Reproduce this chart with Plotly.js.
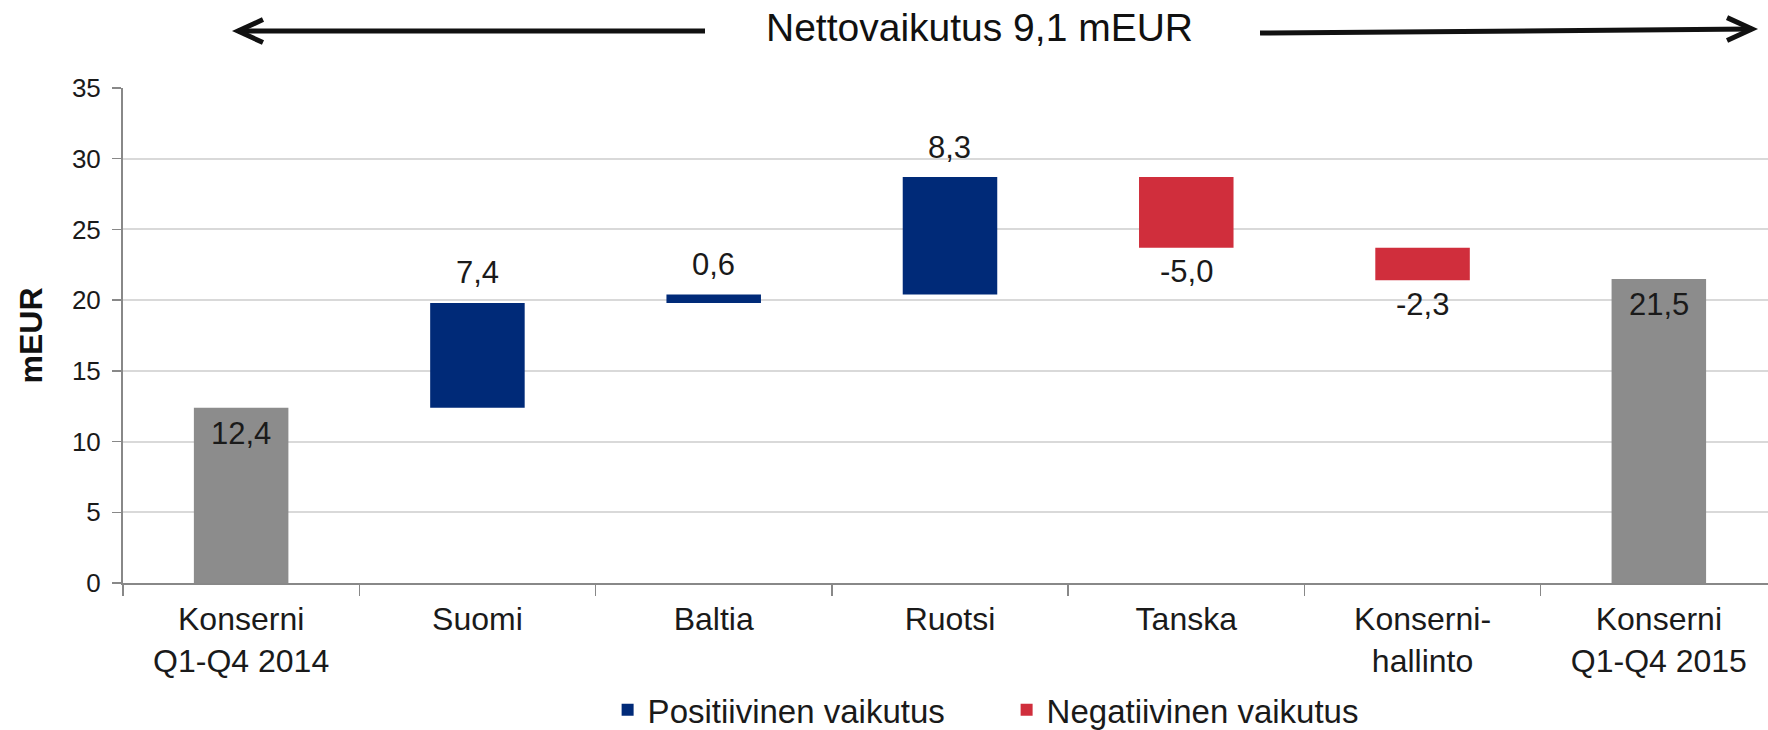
<!DOCTYPE html>
<html>
<head>
<meta charset="utf-8">
<script src="https://cdn.plot.ly/plotly-3.0.1.min.js"></script>
<style>
  html, body { margin: 0; padding: 0; background: #ffffff; }
  #chart { width: 1768px; height: 730px; }
</style>
</head>
<body>
<div id="chart"></div>
<script>
// ---- data ----
const categories = ["Konserni<br>Q1-Q4 2014", "Suomi", "Baltia", "Ruotsi", "Tanska", "Konserni-<br>hallinto", "Konserni<br>Q1-Q4 2015"];
const startValue = 12.4;
const deltas = [7.4, 0.6, 8.3, -5.0, -2.3];
const endValue = 21.5;
const labelTexts = ["12,4", "7,4", "0,6", "8,3", "-5,0", "-2,3", "21,5"];
const yTicks = [0, 5, 10, 15, 20, 25, 30, 35];
const titleText = "Nettovaikutus 9,1 mEUR";
const seriesNames = ["Positiivinen vaikutus", "Negatiivinen vaikutus"];

// ---- derived ----
const n = categories.length;
const grayY = new Array(n).fill(null);
const blueY = new Array(n).fill(null), blueBase = new Array(n).fill(null);
const redY = new Array(n).fill(null), redBase = new Array(n).fill(null);
grayY[0] = startValue; grayY[n - 1] = endValue;
let run = startValue;
const bases = [];
deltas.forEach((d, i) => {
  const k = i + 1;
  bases[k] = run;
  if (d >= 0) { blueY[k] = d; blueBase[k] = run; }
  else { redY[k] = d; redBase[k] = run; }
  run += d;
});

const GRAY = "#8c8c8c", BLUE = "#002a78", RED = "#d02e3c";
const W = 0.4;

const traces = [
  { type: "bar", x: categories, y: grayY, width: W, marker: { color: GRAY }, showlegend: false, hoverinfo: "skip" },
  { type: "bar", x: categories, y: blueY, base: blueBase, width: W, marker: { color: BLUE }, name: seriesNames[0], hoverinfo: "skip" },
  { type: "bar", x: categories, y: redY, base: redBase, width: W, marker: { color: RED }, name: seriesNames[1], hoverinfo: "skip" }
];

const labelFont = { family: "Liberation Sans, Arial, sans-serif", size: 31, color: "#1a1a1a" };
const annotations = [];
// totals: label inside near top
[0, n - 1].forEach(i => {
  annotations.push({ x: categories[i], y: grayY[i], xref: "x", yref: "y", text: labelTexts[i], showarrow: false,
    yanchor: "middle", yshift: -26, font: labelFont });
});
deltas.forEach((d, j) => {
  const k = j + 1;
  const top = bases[k] + d;
  if (d >= 0) {
    annotations.push({ x: categories[k], y: top, xref: "x", yref: "y", text: labelTexts[k], showarrow: false,
      yanchor: "middle", yshift: 30, font: labelFont });
  } else {
    annotations.push({ x: categories[k], y: top, xref: "x", yref: "y", text: labelTexts[k], showarrow: false,
      yanchor: "middle", yshift: -24, font: labelFont });
  }
});
// header text
annotations.push({ x: 0.5204, y: 1.123, xref: "paper", yref: "paper", text: titleText, showarrow: false,
  xanchor: "center", yanchor: "middle", font: { family: "Liberation Sans, Arial, sans-serif", size: 39, color: "#111" } });

// decorative arrows (paper coords)
const ay = 1.115, ay2a = 1.111, ay2b = 1.119;
const hx = 0.0152, hy = 0.0232;
const shapes = [
  { type: "path", xref: "paper", yref: "paper", path: `M0.3538,${ay} L0.0699,${ay}`, line: { color: "#111", width: 5 } },
  { type: "path", xref: "paper", yref: "paper", path: `M${0.0699 + hx},${ay + hy} L0.0699,${ay} L${0.0699 + hx},${ay - hy}`, line: { color: "#111", width: 5 } },
  { type: "path", xref: "paper", yref: "paper", path: `M0.6912,${ay2a} L0.9903,${ay2b}`, line: { color: "#111", width: 5 } },
  { type: "path", xref: "paper", yref: "paper", path: `M${0.9903 - hx},${ay2b + hy} L0.9903,${ay2b} L${0.9903 - hx},${ay2b - hy}`, line: { color: "#111", width: 5 } }
];

const layout = {
  width: 1768, height: 730,
  margin: { l: 123, r: 0, t: 88, b: 147, autoexpand: false },
  paper_bgcolor: "#ffffff", plot_bgcolor: "#ffffff",
  barmode: "overlay",
  font: { family: "Liberation Sans, Arial, sans-serif", color: "#1a1a1a" },
  xaxis: {
    type: "category", range: [-0.5, 6.462], fixedrange: true,
    showline: true, linecolor: "#888888", linewidth: 2,
    ticks: "outside", tickson: "boundaries", ticklen: 11, tickcolor: "#888888", tickwidth: 1.5,
    showgrid: false, tickfont: { size: 32, color: "#1a1a1a" }, ticklabelstandoff: 7
  },
  yaxis: {
    range: [0, 35], tickvals: yTicks, ticktext: yTicks.map(String), fixedrange: true,
    showline: true, linecolor: "#888888", linewidth: 2,
    ticks: "outside", ticklen: 9, tickcolor: "#888888", tickwidth: 1.5,
    showgrid: true, gridcolor: "#d9d9d9", gridwidth: 2, zeroline: false,
    tickfont: { size: 26, color: "#1a1a1a" }, ticklabelstandoff: 6,
    title: { text: "<b>mEUR</b>", font: { size: 32, color: "#111" }, standoff: 20 }
  },
  legend: {
    orientation: "h", x: 0.2946, xanchor: "left", y: -0.256, yanchor: "middle",
    font: { size: 33, color: "#1a1a1a" }, itemwidth: 30, entrywidth: 354, entrywidthmode: "pixels",
    bgcolor: "rgba(0,0,0,0)"
  },
  annotations: annotations,
  shapes: shapes
};

Plotly.newPlot("chart", traces, layout, { staticPlot: true, displayModeBar: false });
</script>
</body>
</html>
